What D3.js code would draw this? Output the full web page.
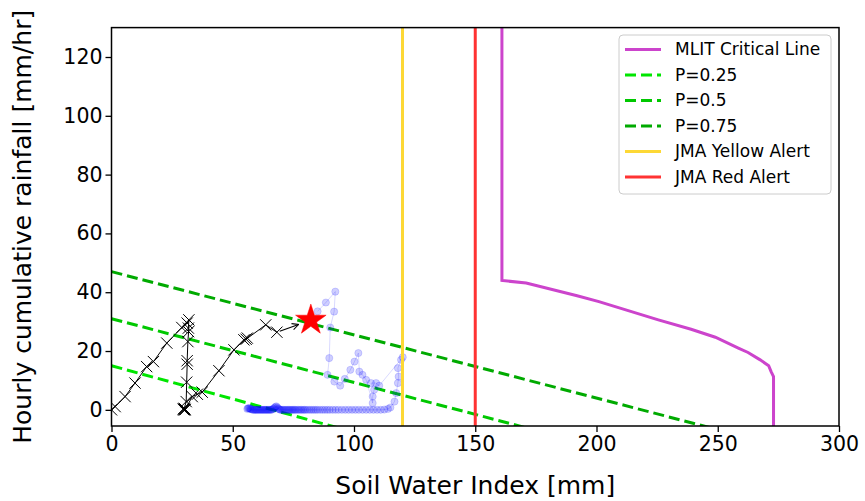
<!DOCTYPE html>
<html>
<head>
<meta charset="utf-8">
<script src="https://cdn.jsdelivr.net/npm/d3@7"></script>
<style>
  body { margin: 0; background: #fff; }
  text { font-family: "DejaVu Sans", sans-serif; }
</style>
</head>
<body>
<svg id="chart"></svg>
<script>
const xTicks = [0, 50, 100, 150, 200, 250, 300];
const yTicks = [0, 20, 40, 60, 80, 100, 120];

// MLIT critical line
const mlitSWI = [161, 161, 171, 192, 201, 225.5, 239, 249, 258.5, 262.5, 267.5, 271, 272, 273, 273];
const mlitRain = [140, 44, 43.1, 38.8, 36.8, 30.6, 27.4, 24.7, 21, 19.5, 17, 15, 13, 11.3, -6];

// probability lines (intercept, slope)
const pLabels = ['P=0.25', 'P=0.5', 'P=0.75'];
const pIntercepts = [15, 31, 47];
const pSlopes = [-0.226, -0.217, -0.215];
const pColors = ['#00e600', '#00c800', '#00aa00'];

const yellowSWI = 120;
const redSWI = 150;

// observed event (black x markers)
const eventSWI = [0, 1.5, 5.6, 9.7, 14.5, 17.3, 22.8, 29, 31.2, 31.9, 31.7, 31.8, 31.5, 31.2, 31.2, 31, 30.8, 30, 29.8, 30.2, 30, 29.6, 30.4, 33.3, 35.4, 37.4, 44.3, 50.5, 54.6, 56, 55.5, 63.6, 68.2];
const eventRain = [0, 1.1, 4.5, 9.1, 14.7, 16.4, 22.7, 28, 29.5, 30.6, 27.8, 26.6, 23.2, 16.7, 15.5, 9.4, 2.8, 0.5, 0, 0, 0.2, 0.3, 0.1, 4.5, 5.3, 6, 13.3, 20.4, 23.8, 24.4, 24, 28.9, 26.4];
const starSWI = 82.2;
const starRain = 30.5;

// other event (faint blue)
const blueSWI = [
  56, 56.3, 56.6, 57, 57.3, 57.6, 58, 58.4, 58.8, 59.2, 59.6, 60, 60.4, 60.8, 61.2, 61.6, 62, 62.4, 62.8, 63.2,
  63.6, 64, 64.4, 64.8, 65.2, 65.6, 66, 66.4, 66.8, 67.2, 67.6, 68, 68.4, 68.8, 69.2, 69.6, 70, 70.5, 71, 71.5,
  72, 72.5, 73, 73.5, 74, 74.5, 75, 75.5, 76, 76.6, 77.2, 77.8, 78.4, 79, 79.6, 80.2, 81, 81.8, 82.6, 83.4,
  84.2, 85, 86, 87, 88, 89, 90, 91.2, 92.4, 93.6, 95, 96.4, 97.8, 99.2, 100.6, 102, 103.5, 105, 106.5, 108,
  109.5, 111, 112.5, 114, 115,
  116.7, 117.4, 118.1, 118.4, 118.1, 119.4, 120.1, 110.4, 109.1, 107, 108.3, 107.7, 107.7, 105, 103.5, 102.2,
  101.8, 100.2, 98.5, 96.2, 94.3, 91.9, 89.1, 89.8, 90.2, 91.8, 92.3, 88.4, 85];
const blueRain = [
  0.3, 0.5, 0.6, 0.5, 0.3, 0.2, 0.1, 0, 0, 0, 0, 0, 0, 0, 0, 0, 0, 0, 0, 0,
  0, 0, 0, 0, 0, 0, 0, 0.2, 0.4, 0.7, 1, 1.2, 0.8, 0.4, 0.2, 0, 0, 0, 0, 0,
  0, 0, 0, 0, 0, 0, 0, 0, 0, 0, 0, 0, 0, 0, 0, 0, 0, 0, 0, 0,
  0, 0, 0, 0, 0, 0, 0, 0, 0, 0, 0, 0, 0, 0, 0, 0, 0, 0, 0, 0,
  0, 0, 0.1, 0.3, 0.8,
  2.8, 5.7, 9.1, 11.3, 14.2, 17, 17.9, 8.2, 9.1, 9.1, 6.8, 4.5, 2.3, 10.2, 11.9, 13,
  19.3, 16.4, 13.6, 10.5, 8.2, 9.6, 11.9, 17.6, 28, 33.4, 40.2, 36.5, 33.5];

const W = 865, H = 501;
const mL = 111.5, mR = 839, mT = 27.6, mB = 426;

const svg = d3.select('#chart').attr('width', W).attr('height', H);

const x = d3.scaleLinear().domain([0, 300]).range([mL, mR]);
const y = d3.scaleLinear().domain([-5.5, 130]).range([mB, mT]);

const defs = svg.append('defs');
defs.append('clipPath').attr('id', 'clip')
  .append('rect').attr('x', mL).attr('y', mT).attr('width', mR - mL).attr('height', mB - mT);
defs.append('marker')
  .attr('id', 'arrow').attr('viewBox', '0 0 10 10').attr('refX', 9).attr('refY', 5)
  .attr('markerWidth', 8).attr('markerHeight', 8).attr('markerUnits', 'userSpaceOnUse').attr('orient', 'auto')
  .append('path').attr('d', 'M1,1 L9,5 L1,9').attr('fill', 'none').attr('stroke', 'black').attr('stroke-width', 1.3);

const plot = svg.append('g').attr('clip-path', 'url(#clip)');
const line = d3.line().x(d => x(d[0])).y(d => y(d[1]));

// probability lines
pIntercepts.forEach((b, i) => {
  plot.append('path')
    .attr('d', line([[0, b], [300, b + pSlopes[i] * 300]]))
    .attr('stroke', pColors[i]).attr('stroke-width', 3).attr('fill', 'none')
    .attr('stroke-dasharray', '11,5');
});

// blue faint event
const blue = d3.zip(blueSWI, blueRain);
plot.append('path').attr('d', line(blue))
  .attr('fill', 'none').attr('stroke', 'blue').attr('stroke-opacity', 0.15).attr('stroke-width', 1);
plot.selectAll('.bdot').data(blue).join('circle')
  .attr('cx', d => x(d[0])).attr('cy', d => y(d[1])).attr('r', 3.6)
  .attr('fill', 'blue').attr('fill-opacity', 0.19)
  .attr('stroke', 'blue').attr('stroke-opacity', 0.14);

// alert lines
plot.append('line').attr('x1', x(yellowSWI)).attr('x2', x(yellowSWI)).attr('y1', mT).attr('y2', mB)
  .attr('stroke', '#fdd835').attr('stroke-width', 3);
plot.append('line').attr('x1', x(redSWI)).attr('x2', x(redSWI)).attr('y1', mT).attr('y2', mB)
  .attr('stroke', '#ff3333').attr('stroke-width', 3);

// MLIT
plot.append('path').attr('d', line(d3.zip(mlitSWI, mlitRain)))
  .attr('fill', 'none').attr('stroke', '#cc44cc').attr('stroke-width', 3);

// black event
const ev = d3.zip(eventSWI, eventRain);
plot.append('path').attr('d', line(ev))
  .attr('fill', 'none').attr('stroke', 'black').attr('stroke-width', 1);
const cross = d3.symbol().type(d3.symbolX).size(85);
plot.selectAll('.xm').data(ev).join('path')
  .attr('d', cross)
  .attr('transform', d => `translate(${x(d[0])},${y(d[1])})`)
  .attr('fill', 'none').attr('stroke', 'black').attr('stroke-width', 1);

// arrow to star
const last = ev[ev.length - 1];
const sx = x(starSWI), sy = y(starRain);
const lx = x(last[0]), ly = y(last[1]);
const ang = Math.atan2(sy - ly, sx - lx);
plot.append('line')
  .attr('x1', lx + 3 * Math.cos(ang)).attr('y1', ly + 3 * Math.sin(ang))
  .attr('x2', sx - 13 * Math.cos(ang)).attr('y2', sy - 13 * Math.sin(ang))
  .attr('stroke', 'black').attr('stroke-width', 1.2).attr('marker-end', 'url(#arrow)');

plot.append('path')
  .attr('d', d3.symbol().type(d3.symbolStar).size(290))
  .attr('transform', `translate(${sx},${sy})`)
  .attr('fill', 'red').attr('stroke', 'red').attr('stroke-width', 0.5);

// axes
const xAxis = svg.append('g').attr('transform', `translate(0,${mB})`)
  .call(d3.axisBottom(x).tickValues(xTicks).tickSize(6).tickPadding(4).tickFormat(d3.format('d')));
const yAxis = svg.append('g').attr('transform', `translate(${mL},0)`)
  .call(d3.axisLeft(y).tickValues(yTicks).tickSize(6).tickPadding(3).tickFormat(d3.format('d')));
[xAxis, yAxis].forEach(a => {
  a.select('.domain').remove();
  a.selectAll('.tick line').attr('stroke-width', 1.3);
  a.selectAll('text').attr('font-size', 20.5).attr('font-family', '"DejaVu Sans", sans-serif').attr('fill', 'black');
});

svg.append('rect').attr('x', mL).attr('y', mT).attr('width', mR - mL).attr('height', mB - mT)
  .attr('fill', 'none').attr('stroke', 'black').attr('stroke-width', 1.5);

svg.append('text').attr('x', (mL + mR) / 2).attr('y', 494).attr('text-anchor', 'middle')
  .attr('font-size', 25).text('Soil Water Index [mm]');
svg.append('text').attr('transform', `translate(31,${(mT + mB) / 2}) rotate(-90)`)
  .attr('text-anchor', 'middle').attr('font-size', 25).text('Hourly cumulative rainfall [mm/hr]');

// legend
const legItems = [
  { label: 'MLIT Critical Line', color: '#cc44cc', dash: null },
  { label: pLabels[0], color: pColors[0], dash: '11,5' },
  { label: pLabels[1], color: pColors[1], dash: '11,5' },
  { label: pLabels[2], color: pColors[2], dash: '11,5' },
  { label: 'JMA Yellow Alert', color: '#fdd835', dash: null },
  { label: 'JMA Red Alert', color: '#ff3333', dash: null }
];
const leg = svg.append('g');
leg.append('rect').attr('x', 619).attr('y', 35).attr('width', 212).attr('height', 159).attr('rx', 4)
  .attr('fill', 'white').attr('fill-opacity', 0.8).attr('stroke', '#cccccc').attr('stroke-width', 1);
legItems.forEach((it, i) => {
  const yy = 49.5 + i * 25.5;
  leg.append('line').attr('x1', 625).attr('x2', 661).attr('y1', yy).attr('y2', yy)
    .attr('stroke', it.color).attr('stroke-width', 3).attr('stroke-dasharray', it.dash);
  leg.append('text').attr('x', 675).attr('y', yy).attr('dy', '0.35em')
    .attr('font-size', 17).text(it.label);
});
</script>
</body>
</html>
